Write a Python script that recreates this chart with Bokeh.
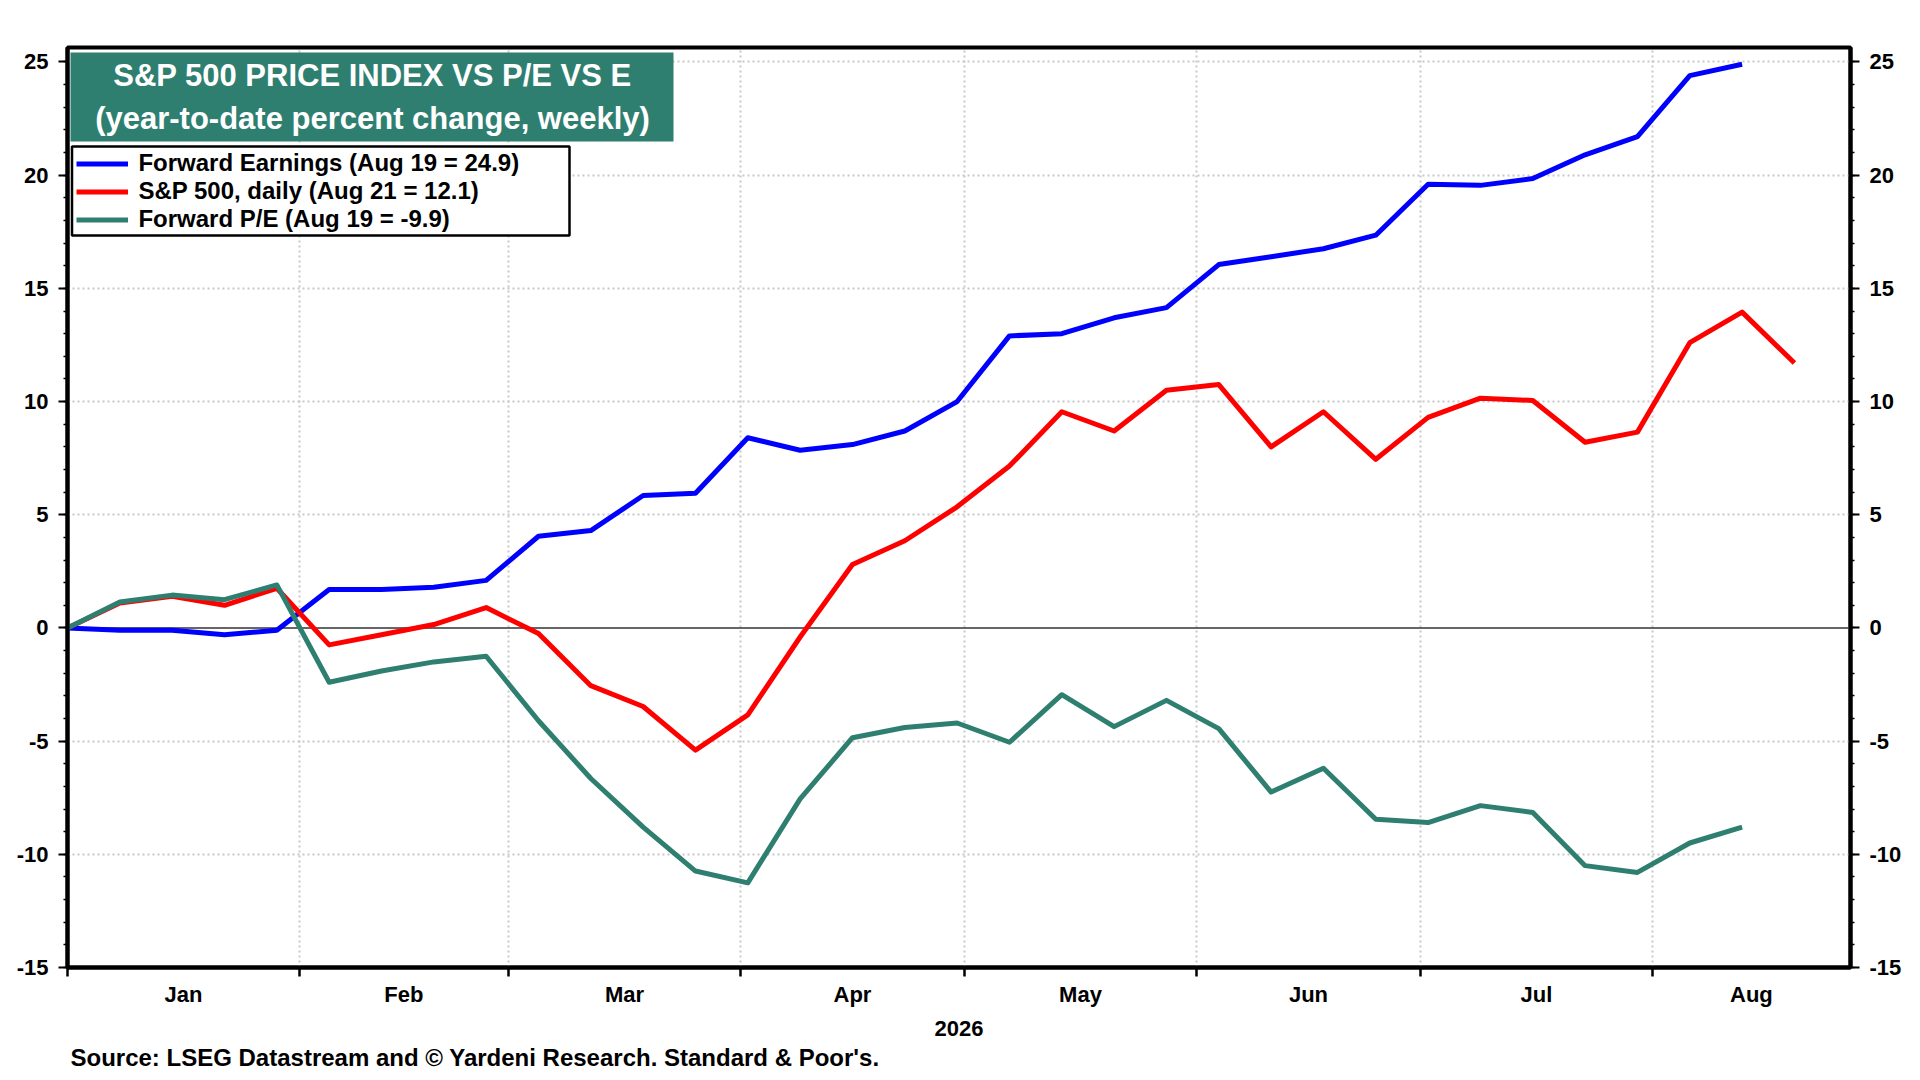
from bokeh.plotting import figure
from bokeh.models import (Range1d, LinearAxis, FixedTicker, Span, BoxAnnotation,
                          Label, Legend, LegendItem, Title)
from bokeh.embed import file_html
from bokeh.resources import INLINE

# ---------------- data (year-to-date % change, weekly) ----------------
forward_earnings = [0.0, -0.1, -0.1, -0.3, -0.1, 1.7, 1.7, 1.8, 2.1, 4.05, 4.3,
                    5.85, 5.95, 8.4, 7.85, 8.1, 8.7, 10.0, 12.9, 13.0, 13.7, 14.15,
                    16.05, 16.4, 16.75, 17.35, 19.6, 19.55, 19.85, 20.9, 21.7, 24.4, 24.9]
sp500_daily = [0.0, 1.1, 1.4, 1.0, 1.75, -0.75, -0.3, 0.15, 0.9, -0.25, -2.55,
               -3.47, -5.4, -3.84, -0.4, 2.8, 3.85, 5.35, 7.15, 9.55, 8.7, 10.5,
               10.75, 8.0, 9.55, 7.45, 9.3, 10.15, 10.05, 8.2, 8.65, 12.6, 13.95, 11.7]
forward_pe = [0.0, 1.15, 1.45, 1.25, 1.9, -2.4, -1.9, -1.5, -1.25, -4.1, -6.65,
              -8.8, -10.74, -11.26, -7.55, -4.85, -4.4, -4.2, -5.05, -2.95, -4.36, -3.2,
              -4.45, -7.25, -6.2, -8.45, -8.6, -7.85, -8.15, -10.5, -10.8, -9.5, -8.8]

# day offsets (from Jan 1, 2026) of the weekly observations
days_fe = [7 * i for i in range(len(forward_earnings))]
days_sp = [7 * i for i in range(len(sp500_daily))]
days_pe = [7 * i for i in range(len(forward_pe))]

month_names = ["Jan", "Feb", "Mar", "Apr", "May", "Jun", "Jul", "Aug"]
month_starts = [0, 31, 59, 90, 120, 151, 181, 212]
x_end = 238.5
month_mids = [(a + b) / 2 for a, b in zip(month_starts, month_starts[1:] + [x_end])]

y_ticks = [-15, -10, -5, 0, 5, 10, 15, 20, 25]
y_minor = list(range(-15, 26))

legend_labels = ["Forward Earnings (Aug 19 = 24.9)",
                 "S&P 500, daily (Aug 21 = 12.1)",
                 "Forward P/E (Aug 19 = -9.9)"]
title_lines = ["S&P 500 PRICE INDEX VS P/E VS E",
               "(year-to-date percent change, weekly)"]
year_label = "2026"
source_text = "Source: LSEG Datastream and \u00a9 Yardeni Research. Standard & Poor's."

BLUE = "#0000FF"
RED = "#FF0000"
TEAL = "#2F7F71"
FONT = "Liberation Sans"

# ---------------- figure ----------------
p = figure(width=1904, height=1076,
           x_range=Range1d(0, x_end), y_range=Range1d(-15, 25.64),
           output_backend="svg", toolbar_location=None,
           min_border_left=67, min_border_right=50,
           min_border_top=47, min_border_bottom=109,
           background_fill_color="white", border_fill_color="white")
p.outline_line_color = "black"
p.outline_line_width = 4

# grid
p.xgrid.ticker = FixedTicker(ticks=month_starts[1:])
p.ygrid.ticker = FixedTicker(ticks=[t for t in y_ticks if t != 0])
for g in (p.xgrid, p.ygrid):
    g.grid_line_color = "#c8c8c8"
    g.grid_line_width = 2
    g.grid_line_dash = "2 3"

# x axis (month names centred, ticks at month boundaries)
xa = p.xaxis[0]
xa.ticker = FixedTicker(ticks=month_mids, minor_ticks=month_starts)
xa.major_label_overrides = {m: n for m, n in zip(month_mids, month_names)}
xa.major_tick_line_color = None
xa.major_tick_out = 0
xa.major_tick_in = 0
xa.minor_tick_out = 9
xa.minor_tick_in = 0
xa.minor_tick_line_width = 2.5
xa.minor_tick_line_color = "black"
xa.axis_line_width = 4
xa.major_label_standoff = 5
xa.major_label_text_font = FONT
xa.major_label_text_font_style = "bold"
xa.major_label_text_font_size = "22px"
xa.major_label_text_color = "black"
xa.axis_label = year_label
xa.axis_label_standoff = 11
xa.axis_label_text_font = FONT
xa.axis_label_text_font_style = "bold"
xa.axis_label_text_font_size = "22px"
xa.axis_label_text_color = "black"

# y axes (left and right)
ya = p.yaxis[0]
yr = LinearAxis()
p.add_layout(yr, "right")
for ax in (ya, yr):
    ax.ticker = FixedTicker(ticks=y_ticks, minor_ticks=y_minor)
    ax.major_label_overrides = {t: str(t) for t in y_ticks}
    ax.axis_line_width = 4
    ax.major_tick_out = 9
    ax.major_tick_in = 0
    ax.major_tick_line_width = 2
    ax.minor_tick_out = 4
    ax.minor_tick_in = 0
    ax.minor_tick_line_width = 1.5
    ax.major_label_standoff = 10
    ax.major_label_text_font = FONT
    ax.major_label_text_font_style = "bold"
    ax.major_label_text_font_size = "22px"
    ax.major_label_text_color = "black"

# zero line
p.add_layout(Span(location=0, dimension="width", line_color="#666666", line_width=2,
                  level="underlay"))

# series
r_fe = p.line(days_fe, forward_earnings, line_color=BLUE, line_width=5, line_join="round")
r_sp = p.line(days_sp, sp500_daily, line_color=RED, line_width=5, line_join="round")
r_pe = p.line(days_pe, forward_pe, line_color=TEAL, line_width=5, line_join="round")

# title box
p.add_layout(BoxAnnotation(left=3, right=606, top=915, bottom=826,
                           left_units="screen", right_units="screen",
                           top_units="screen", bottom_units="screen",
                           fill_color=TEAL, fill_alpha=1.0, line_color=None))
for txt, yy in zip(title_lines, [892, 849]):
    p.add_layout(Label(x=305, y=yy, x_units="screen", y_units="screen", text=txt,
                       text_align="center", text_baseline="middle",
                       text_font=FONT, text_font_style="bold",
                       text_font_size="31px", text_color="white"))

# legend box
p.add_layout(BoxAnnotation(left=4.5, right=502, top=821, bottom=732,
                           left_units="screen", right_units="screen",
                           top_units="screen", bottom_units="screen",
                           fill_color="white", fill_alpha=1.0,
                           line_color="black", line_alpha=1.0, line_width=2.5))

legend = Legend(items=[LegendItem(label=legend_labels[0], renderers=[r_fe]),
                       LegendItem(label=legend_labels[1], renderers=[r_sp]),
                       LegendItem(label=legend_labels[2], renderers=[r_pe])],
                location=(9.4, 734), margin=0, padding=4, spacing=0,
                glyph_width=52, glyph_height=27, label_height=27,
                label_standoff=10,
                label_text_font=FONT, label_text_font_style="bold",
                label_text_font_size="24px", label_text_color="black",
                border_line_color=None, background_fill_alpha=0.0)
p.add_layout(legend)

# source note
p.add_layout(Title(text=source_text, align="left", offset=3, standoff=7,
                   text_font=FONT, text_font_style="bold", text_font_size="24px",
                   text_color="black"), "below")

open("out.html", "w").write(file_html(p, INLINE))
